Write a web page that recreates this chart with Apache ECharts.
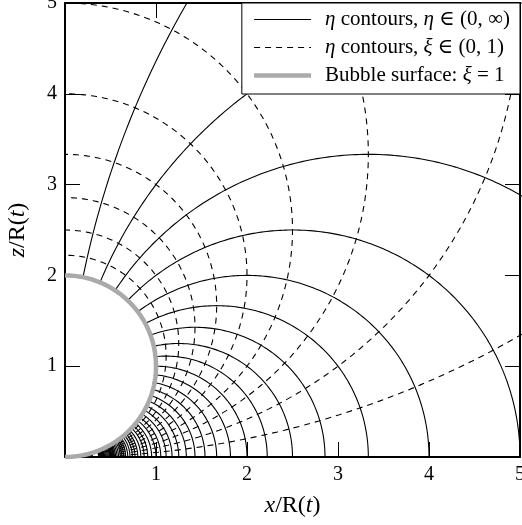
<!DOCTYPE html>
<html>
<head>
<meta charset="utf-8">
<script src="https://cdn.jsdelivr.net/npm/echarts@6/dist/echarts.min.js"></script>
<style>
  html, body { margin: 0; padding: 0; background: #fff; }
  #chart { width: 522px; height: 525px; }
</style>
</head>
<body>
<div id="chart"></div>
<script>
// contour levels
var etaLevels = [0.1, 0.2, 0.3, 0.4, 0.5, 0.6, 0.7, 0.8, 0.9, 1.0,
  1.1, 1.2, 1.3, 1.4, 1.5, 1.6, 1.7, 1.8, 1.9, 2.0,
  2.1, 2.2, 2.3, 2.4, 2.5, 2.6, 2.7, 2.8, 2.9, 3.0,
  3.1, 3.2, 3.3, 3.4, 3.5, 3.6, 3.7, 3.8, 3.9, 4.0,
  4.1, 4.2, 4.3, 4.4, 4.5, 4.6, 4.7, 4.8, 4.9, 5.0];
var xiLevels = [0.1, 0.2, 0.3, 0.4, 0.5, 0.6, 0.7, 0.8, 0.9];
var bubbleXi = 1;
var axisMin = 0, axisMax = 5, tickStep = 1;

var serif = "'Liberation Serif', 'DejaVu Serif', serif";
var nameSolid = "solid";
var nameDashed = "dashed";
var nameBubble = "bubble";
var legendText = {
  solid: "{i|η} contours, {i|η} ∈ (0, ∞)",
  dashed: "{i|η} contours, {i|ξ} ∈ (0, 1)",
  bubble: "Bubble surface: {i|ξ} = 1"
};

// eta = const: circle centred on the x axis, from the x axis up to the bubble
function etaCurve(eta) {
  var c = 1 / eta;
  var xb = 2 * eta / (1 + eta * eta), zb = 2 / (1 + eta * eta);
  var end = Math.atan2(zb, xb - c);
  var pts = [];
  var n = 400;
  for (var i = 0; i <= n; i++) {
    var t = end * i / n;
    pts.push([c + c * Math.cos(t), c * Math.sin(t)]);
  }
  return pts;
}
// xi = const: circle centred on the z axis, tangent to the x axis at the origin
function xiCurve(xi) {
  var b = 1 / xi;
  var pts = [];
  var n = 400;
  for (var i = 0; i <= n; i++) {
    var t = Math.PI * i / n;
    pts.push([b * Math.sin(t), b - b * Math.cos(t)]);
  }
  return pts;
}

var solidStyle = { color: "#000", width: 1.1 };
var dashedStyle = { color: "#000", width: 1.1, type: [6, 5] };
var bubbleStyle = { color: "#aaaaaa", width: 4.5 };

var series = [];
etaLevels.forEach(function (eta) {
  series.push({
    name: nameSolid, type: "line", data: etaCurve(eta), symbol: "none",
    lineStyle: solidStyle, itemStyle: { color: "#000" },
    silent: true, animation: false, z: 2
  });
});
xiLevels.forEach(function (xi) {
  series.push({
    name: nameDashed, type: "line", data: xiCurve(xi), symbol: "none",
    lineStyle: dashedStyle, itemStyle: { color: "#000" },
    silent: true, animation: false, z: 2
  });
});
series.push({
  name: nameBubble, type: "line", data: xiCurve(bubbleXi), symbol: "none",
  lineStyle: bubbleStyle, itemStyle: { color: "#aaaaaa" },
  silent: true, animation: false, z: 3
});

var rich = {
  i: { fontFamily: serif, fontStyle: "italic", fontSize: 21, color: "#000" }
};
var titleRich = {
  i: { fontFamily: serif, fontStyle: "italic", fontSize: 24, color: "#000" },
  n: { fontFamily: serif, fontSize: 24, color: "#000" }
};

function axisBase(pos, labels) {
  return {
    type: "value", min: axisMin, max: axisMax, interval: tickStep, position: pos,
    axisLine: { onZero: false, lineStyle: { color: "#000", width: 2 } },
    axisTick: { inside: true, length: 15, lineStyle: { color: "#000", width: 1 } },
    axisLabel: {
      show: labels, margin: 8, color: "#000", fontFamily: serif, fontSize: 20,
      showMaxLabel: true,
      formatter: function (v) { return v === 0 ? "" : String(v); }
    },
    splitLine: { show: false }
  };
}

var xMain = axisBase("bottom", true);
xMain.name = "{i|x}{n|/R(}{i|t}{n|)}";
xMain.nameLocation = "middle";
xMain.nameGap = 37;
xMain.nameTextStyle = { rich: titleRich };
var yMain = axisBase("left", true);
yMain.name = "{i|z}{n|/R(}{i|t}{n|)}";
yMain.nameLocation = "middle";
yMain.nameGap = 35;
yMain.nameTextStyle = { rich: titleRich };

var chart = echarts.init(document.getElementById("chart"), null, { renderer: "canvas" });
chart.setOption({
  backgroundColor: "#fff",
  animation: false,
  grid: { left: 65, right: 2, top: 3, bottom: 68, containLabel: false, outerBoundsMode: "none" },
  xAxis: [xMain, axisBase("top", false)],
  yAxis: [yMain, axisBase("right", false)],
  legend: {
    data: [
      { name: nameSolid, lineStyle: solidStyle },
      { name: nameDashed, lineStyle: dashedStyle },
      { name: nameBubble, lineStyle: bubbleStyle }
    ],
    orient: "vertical", right: 2, top: 3, align: "left",
    backgroundColor: "#fff", borderColor: "#000", borderWidth: 1, borderRadius: 0,
    padding: [6, 10, 8, 10], itemGap: 7, itemWidth: 57, itemHeight: 20,
    selectedMode: false,
    itemStyle: { opacity: 0 },
    textStyle: { fontFamily: serif, fontSize: 21, color: "#000", rich: rich, padding: [0, 0, 0, 9] },
    formatter: function (name) { return legendText[name]; }
  },
  series: series
});
</script>
</body>
</html>
